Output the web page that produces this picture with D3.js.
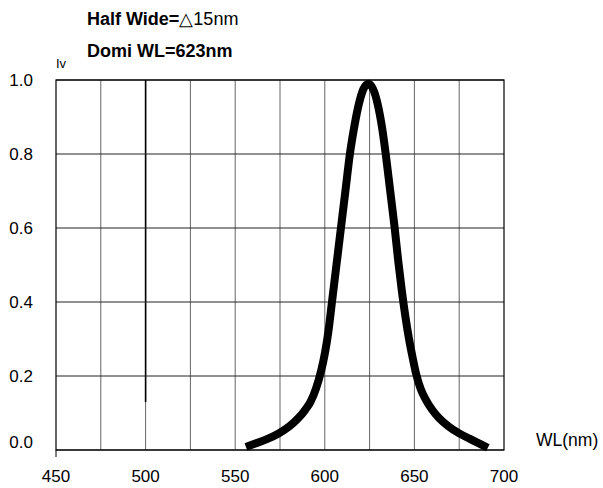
<!DOCTYPE html>
<html>
<head>
<meta charset="utf-8">
<script src="https://cdn.jsdelivr.net/npm/d3@7"></script>
<style>
  body { margin: 0; background: #fff; }
  text { font-family: "Liberation Sans", Arial, sans-serif; fill: #000; }
</style>
</head>
<body>
<div class="graph"></div>
<script>
var wavelength = [556, 562, 568, 574, 580, 585, 589, 592, 595, 598, 600, 602, 604, 606.5, 609, 611.5, 614, 616.5, 619, 621.5, 624.3,
                  627, 629.5, 632, 634, 636.5, 639, 641, 643, 645, 647, 649, 651, 653.5, 656.5, 660, 664, 669, 675, 681, 686, 691]
var intensity  = [0.008, 0.019, 0.03, 0.044, 0.063, 0.085, 0.108, 0.13, 0.165, 0.215, 0.26, 0.32, 0.4, 0.5, 0.6, 0.7, 0.8, 0.875, 0.935, 0.975, 0.99,
                  0.975, 0.935, 0.87, 0.8, 0.7, 0.6, 0.51, 0.43, 0.36, 0.3, 0.25, 0.205, 0.165, 0.135, 0.108, 0.085, 0.064, 0.045, 0.03, 0.018, 0.006]
var xTicks = [450, 500, 550, 600, 650, 700]
var xGrid = [475, 500, 525, 550, 575, 600, 625, 650, 675]
var yTicks = [0.0, 0.2, 0.4, 0.6, 0.8, 1.0]

var w = 603
var h = 488
// plot box (don't call these top/left, those are window globals)
var pLeft = 56, pRight = 504, pTop = 80, pBottom = 450

var svg = d3.select(".graph")
              .append("svg")
              .attr("width", w)
              .attr("height", h)

var x = d3.scaleLinear().domain([450, 700]).range([pLeft, pRight])
var y = d3.scaleLinear().domain([0, 1]).range([pBottom, pTop])

// vertical grid
svg.selectAll("line.vgrid")
  .data(xGrid)
  .enter()
  .append("line")
  .attr("class", "vgrid")
  .attr("x1", function(d){ return x(d) })
  .attr("x2", function(d){ return x(d) })
  .attr("y1", pTop)
  .attr("y2", pBottom)
  .attr("stroke", "#666")
  .attr("stroke-width", 1)

// the darker piece of the 500 line
svg.append("line")
  .attr("x1", x(500)).attr("x2", x(500))
  .attr("y1", pTop).attr("y2", y(0.13))
  .attr("stroke", "#000")
  .attr("stroke-width", 1.6)

// horizontal grid
svg.selectAll("line.hgrid")
  .data(yTicks)
  .enter()
  .append("line")
  .attr("class", "hgrid")
  .attr("x1", pLeft)
  .attr("x2", pRight)
  .attr("y1", function(d){ return y(d) })
  .attr("y2", function(d){ return y(d) })
  .attr("stroke", "#222")
  .attr("stroke-width", 1)

// frame
svg.append("rect")
  .attr("x", pLeft).attr("y", pTop)
  .attr("width", pRight - pLeft).attr("height", pBottom - pTop)
  .attr("fill", "none")
  .attr("stroke", "#000")
  .attr("stroke-width", 1.2)

svg.append("line")
  .attr("x1", pLeft).attr("x2", pLeft)
  .attr("y1", pBottom).attr("y2", pBottom + 7)
  .attr("stroke", "#000")

// tick labels
svg.selectAll("text.xl")
  .data(xTicks)
  .enter()
  .append("text")
  .attr("class", "xl")
  .text(function(d){ return d })
  .attr("x", function(d){ return x(d) })
  .attr("y", 482)
  .attr("text-anchor", "middle")
  .style("font-size", "17px")

svg.selectAll("text.yl")
  .data(yTicks)
  .enter()
  .append("text")
  .attr("class", "yl")
  .text(function(d){ return d.toFixed(1) })
  .attr("x", 33)
  .attr("y", function(d){ return d == 0 ? y(d) - 2 : y(d) + 6 })
  .attr("text-anchor", "end")
  .style("font-size", "17px")

// curve
var line = d3.line()
  .x(function(d, i){ return x(wavelength[i]) })
  .y(function(d){ return y(d) })
  .curve(d3.curveMonotoneX)

svg.append("path")
  .datum(intensity)
  .attr("d", line)
  .attr("fill", "none")
  .attr("stroke", "#000")
  .attr("stroke-width", 8)
  .attr("stroke-linejoin", "round")

// labels
var t1 = svg.append("text").attr("x", 87).attr("y", 25).style("font-size", "18px")
t1.append("tspan").text("Half Wide=").style("font-weight", "bold")
t1.append("tspan").text("\u25b315nm")

svg.append("text").attr("x", 87).attr("y", 57)
  .style("font-size", "18px").style("font-weight", "bold")
  .text("Domi WL=623nm")

svg.append("text").attr("x", 56).attr("y", 68)
  .style("font-size", "13px")
  .text("Iv")

svg.append("text").attr("x", 536).attr("y", 446)
  .style("font-size", "17.5px")
  .text("WL(nm)")
</script>
</body>
</html>
